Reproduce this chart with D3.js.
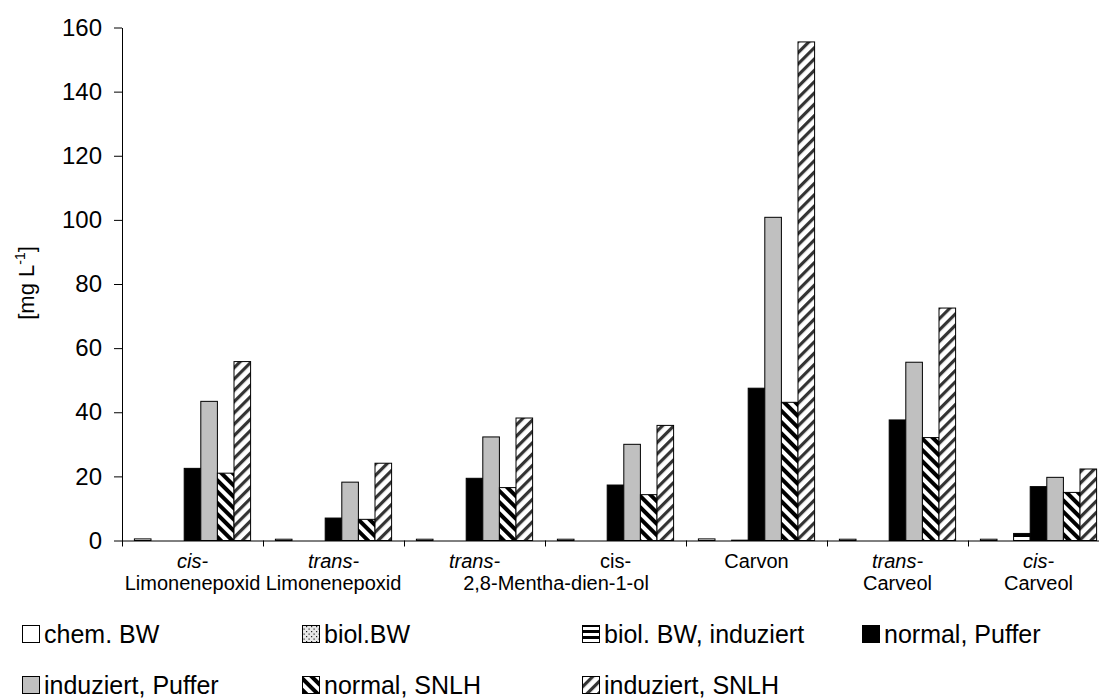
<!DOCTYPE html>
<html>
<head>
<meta charset="utf-8">
<script src="https://cdn.jsdelivr.net/npm/d3@7"></script>
<style>
  html, body { margin: 0; padding: 0; background: #fff; }
  svg { display: block; font-family: "Liberation Sans", Arial, sans-serif; }
</style>
</head>
<body>
<svg id="chart" width="1099" height="698"></svg>
<script>
// ---- data ----
const categories = ["cis-Limonenepoxid", "trans-Limonenepoxid", "trans-2,8-Mentha-dien-1-ol",
  "cis-2,8-Mentha-dien-1-ol", "Carvon", "trans-Carveol", "cis-Carveol"];
const labelLine1 = ["cis-", "trans-", "trans-", "cis-", "Carvon", "trans-", "cis-"];
const labelLine1Italic = [true, true, true, false, false, true, true];
const labelLine2 = ["Limonenepoxid", "Limonenepoxid", "", "", "", "Carveol", "Carveol"];
const sharedLabel = "2,8-Mentha-dien-1-ol"; // spans categories 3 and 4

const seriesNames = ["chem. BW", "biol.BW", "biol. BW, induziert", "normal, Puffer",
  "induziert, Puffer", "normal, SNLH", "induziert, SNLH"];
const chemBW          = [0.5, 0.4, 0.4, 0.4, 0.5, 0.4, 0.4];
const biolBW          = [null, null, null, null, null, null, null];
const biolBWInduziert = [null, null, null, null, 0.1, null, 2.2];
const normalPuffer    = [22.5, 7.0, 19.4, 17.3, 47.5, 37.6, 16.8];
const induziertPuffer = [43.4, 18.2, 32.3, 30.0, 100.8, 55.6, 19.7];
const normalSNLH      = [21.0, 6.6, 16.5, 14.3, 43.1, 32.1, 15.0];
const induziertSNLH   = [55.8, 24.1, 38.2, 35.9, 155.5, 72.5, 22.3];
const seriesValues = [chemBW, biolBW, biolBWInduziert, normalPuffer, induziertPuffer, normalSNLH, induziertSNLH];
const yTicks = [0, 20, 40, 60, 80, 100, 120, 140, 160];

// ---- layout ----
const svg = d3.select("#chart");
const plotLeft = 122, catW = 141, baseY = 540.5, topY = 27.5;
const x0 = d3.scaleBand().domain(categories).range([plotLeft, plotLeft + catW * categories.length]).padding(0);
const x1 = d3.scaleBand().domain(seriesNames).range([12.4, x0.bandwidth() - 12.4]).padding(0);
const y = d3.scaleLinear().domain([0, 160]).range([baseY, topY]);

// ---- patterns ----
const defs = svg.append("defs");
const pDot = defs.append("pattern").attr("id", "pDot").attr("patternUnits", "userSpaceOnUse")
  .attr("width", 5).attr("height", 5);
pDot.append("rect").attr("width", 5).attr("height", 5).attr("fill", "#e8e8e8");
pDot.append("rect").attr("x", 1).attr("y", 1).attr("width", 1.2).attr("height", 1.2).attr("fill", "#222");
pDot.append("rect").attr("x", 3.5).attr("y", 3.5).attr("width", 1.2).attr("height", 1.2).attr("fill", "#222");
const pHor = defs.append("pattern").attr("id", "pHor").attr("patternUnits", "userSpaceOnUse")
  .attr("width", 6).attr("height", 6);
pHor.append("rect").attr("width", 6).attr("height", 6).attr("fill", "#fff");
pHor.append("rect").attr("width", 6).attr("height", 3).attr("fill", "#000");
const pBack = defs.append("pattern").attr("id", "pBack").attr("patternUnits", "userSpaceOnUse")
  .attr("width", 8).attr("height", 8).attr("patternTransform", "rotate(45)");
pBack.append("rect").attr("width", 8).attr("height", 8).attr("fill", "#fff");
pBack.append("rect").attr("width", 8).attr("height", 4).attr("fill", "#000");
const pFwd = defs.append("pattern").attr("id", "pFwd").attr("patternUnits", "userSpaceOnUse")
  .attr("width", 8).attr("height", 8).attr("patternTransform", "rotate(-45)");
pFwd.append("rect").attr("width", 8).attr("height", 8).attr("fill", "#fff");
pFwd.append("rect").attr("width", 8).attr("height", 3.2).attr("fill", "#333");

const fills = ["#ffffff", "url(#pDot)", "url(#pHor)", "#000000", "#c0c0c0", "url(#pBack)", "url(#pFwd)"];

// ---- bars ----
const barData = [];
categories.forEach((c, ci) => {
  seriesNames.forEach((s, si) => {
    const v = seriesValues[si][ci];
    if (v !== null && v !== undefined) barData.push({ c, s, si, v });
  });
});
svg.append("g").selectAll("rect").data(barData).join("rect")
  .attr("x", d => x0(d.c) + x1(d.s))
  .attr("y", d => y(d.v))
  .attr("width", x1.bandwidth())
  .attr("height", d => y(0) - y(d.v))
  .attr("fill", d => fills[d.si])
  .attr("stroke", "#000")
  .attr("stroke-width", 1);

// ---- axes ----
const yAxis = d3.axisLeft(y).tickValues(yTicks).tickSize(8).tickSizeOuter(0).tickPadding(12);
const gy = svg.append("g").attr("transform", `translate(${plotLeft},0)`).call(yAxis);
gy.selectAll("text").attr("font-size", 24).attr("fill", "#000")
  .attr("font-family", "Liberation Sans, Arial, sans-serif");
gy.selectAll("line,path").attr("stroke", "#000");

const xb = d3.scaleLinear().domain([0, categories.length]).range(x0.range());
const xAxis = d3.axisBottom(xb).tickValues(d3.range(categories.length + 1)).tickFormat("").tickSize(6).tickSizeOuter(0);
const gx = svg.append("g").attr("transform", `translate(0,${baseY})`).call(xAxis);
gx.selectAll("line,path").attr("stroke", "#000");

// ---- category labels ----
const labG = svg.append("g").attr("font-size", 20).attr("fill", "#000").attr("text-anchor", "middle");
categories.forEach((c, i) => {
  const cx = x0(c) + x0.bandwidth() / 2;
  labG.append("text").attr("x", cx).attr("y", 568)
    .attr("font-style", labelLine1Italic[i] ? "italic" : "normal").text(labelLine1[i]);
  if (labelLine2[i]) labG.append("text").attr("x", cx).attr("y", 590).text(labelLine2[i]);
});
labG.append("text").attr("x", x0(categories[3]) + 11).attr("y", 590).text(sharedLabel);

// ---- y axis title ----
const yt = svg.append("text").attr("transform", `translate(34,283) rotate(-90)`)
  .attr("text-anchor", "middle").attr("font-size", 22).attr("fill", "#000");
yt.append("tspan").text("[mg L");
yt.append("tspan").attr("font-size", 14).attr("dy", -9).text("-1");
yt.append("tspan").attr("dy", 9).text("]");

// ---- legend ----
const leg = svg.append("g");
seriesNames.forEach((s, i) => {
  const lx = 22 + 280 * (i % 4);
  const ly = i < 4 ? 643 : 694;
  leg.append("rect").attr("x", lx + 0.5).attr("y", ly - 17.5).attr("width", 17).attr("height", 17)
    .attr("fill", fills[i]).attr("stroke", "#000").attr("stroke-width", 1);
  leg.append("text").attr("x", lx + 22).attr("y", ly).attr("font-size", 25).attr("fill", "#000").text(s);
});
</script>
</body>
</html>
